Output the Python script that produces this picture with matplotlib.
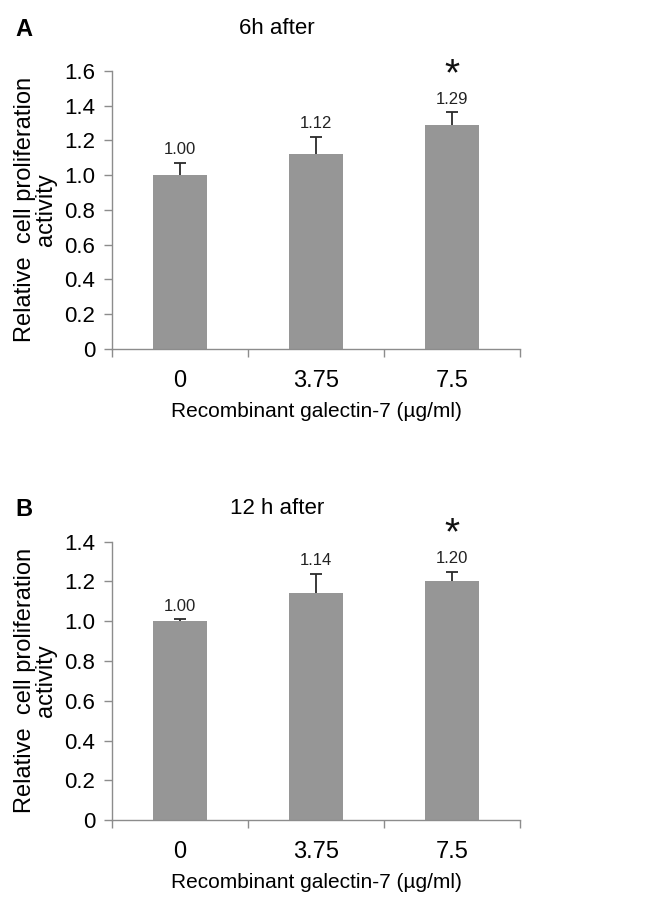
import matplotlib
matplotlib.use("Agg")
import matplotlib.pyplot as plt
import numpy as np

plt.rcParams['font.family'] = ['Liberation Sans', 'DejaVu Sans']

doses = ["0", "3.75", "7.5"]

vals_6h = [1.00, 1.12, 1.29]
err_6h = [0.07, 0.10, 0.07]
labels_6h = ["1.00", "1.12", "1.29"]

vals_12h = [1.00, 1.14, 1.20]
err_12h = [0.01, 0.10, 0.05]
labels_12h = ["1.00", "1.14", "1.20"]

signif = [False, False, True]

BAR_COLOR = "#969696"
AXIS_COLOR = "#8c8c8c"
ERR_COLOR = "#2a2a2a"


def draw_panel(fig, rect, vals, errs, labels, ymax, title, letter, title_y):
    ax = fig.add_axes(rect)
    x = np.arange(len(doses))
    tops = np.array(vals) + np.array(errs)

    ax.bar(x, vals, width=0.4, color=BAR_COLOR, zorder=2)
    # upper half of the error bar only, cap on top
    ax.vlines(x, vals, tops, color=ERR_COLOR, lw=1.3, zorder=3)
    ax.plot(x, tops, ls='none', marker='_', ms=8, mew=1.3, color=ERR_COLOR, zorder=3)

    for xi, top, lab, s in zip(x, tops, labels, signif):
        ax.annotate(lab, (xi, top), xytext=(0, 4), textcoords='offset points',
                    ha='center', va='bottom', fontsize=12, color='#222222')
        if s:
            ax.annotate("*", (xi, top), xytext=(0, 14), textcoords='offset points',
                        ha='center', va='bottom', fontsize=28, color='#111111')

    ax.set_xlim(-0.5, len(doses) - 0.5)
    ax.set_ylim(0, ymax)
    yt = np.arange(0, ymax + 0.01, 0.2)
    ax.set_yticks(yt)
    ax.set_yticklabels(["0"] + [f"{t:.1f}" for t in yt[1:]])
    ax.set_xticks(x)
    ax.set_xticklabels(doses)
    ax.set_xticks(np.arange(-0.5, len(doses), 1.0), minor=True)
    ax.tick_params(axis='x', which='major', length=0, labelsize=17, pad=15)
    ax.tick_params(axis='x', which='minor', length=6, width=1, color=AXIS_COLOR, direction='out')
    ax.tick_params(axis='y', length=6, width=1, color=AXIS_COLOR, labelsize=16, pad=6)

    for side in ['top', 'right']:
        ax.spines[side].set_visible(False)
    for side in ['left', 'bottom']:
        ax.spines[side].set_color(AXIS_COLOR)
        ax.spines[side].set_linewidth(1)

    ax.set_xlabel("Recombinant galectin-7 (µg/ml)", fontsize=15, labelpad=7)
    ax.set_ylabel("Relative  cell proliferation\nactivity", fontsize=17,
                  linespacing=0.95)
    ax.yaxis.set_label_coords(-0.135, 0.5)

    fig.text(277 / 652, title_y, title, ha='center', va='center', fontsize=16)
    fig.text(15 / 652, title_y, letter, ha='left', va='center', fontsize=17,
             fontweight='bold')
    return ax


fig = plt.figure(figsize=(6.52, 9.02), dpi=100)

draw_panel(fig, [0.1718, 0.6131, 0.626, 0.3085], vals_6h, err_6h, labels_6h,
           1.6, "6h after", "A", 1 - 29 / 902)
draw_panel(fig, [0.1718, 0.0909, 0.626, 0.3085], vals_12h, err_12h, labels_12h,
           1.4, "12 h after", "B", 1 - 509 / 902)

fig.savefig("out.png", dpi=100)
